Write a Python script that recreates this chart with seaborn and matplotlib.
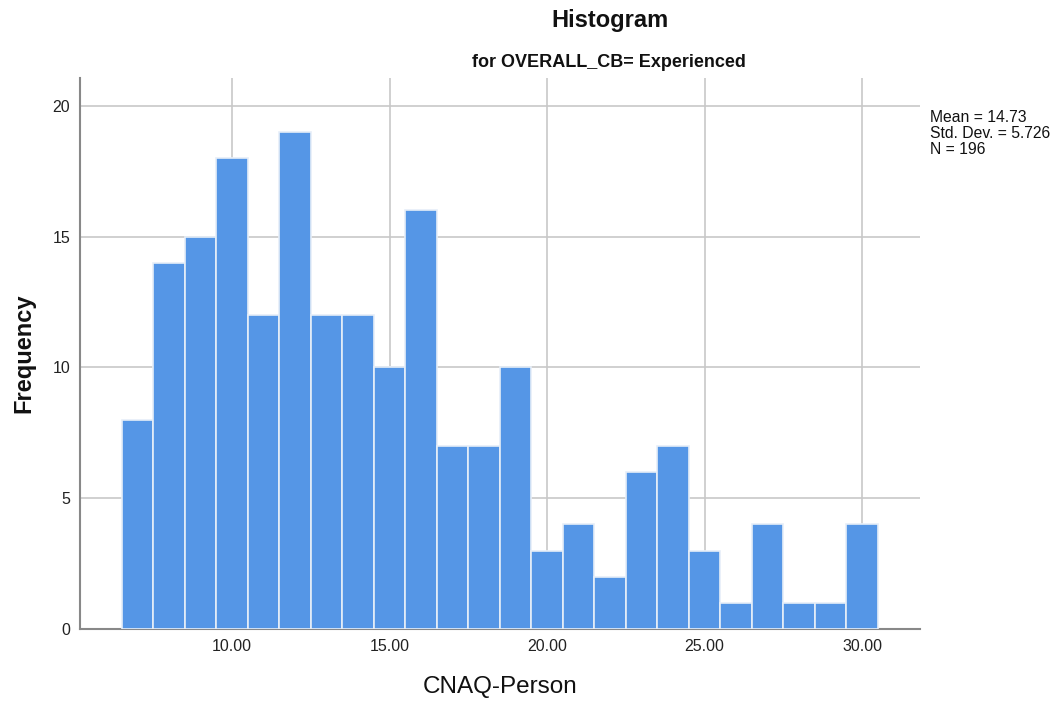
import matplotlib
matplotlib.use("Agg")
import matplotlib.pyplot as plt
import seaborn as sns
import numpy as np

bin_centers = [7, 8, 9, 10, 11, 12, 13, 14, 15, 16, 17, 18, 19, 20, 21, 22, 23, 24, 25, 26, 27, 28, 29, 30]
counts = [8, 14, 15, 18, 12, 19, 12, 12, 10, 16, 7, 7, 10, 3, 4, 2, 6, 7, 3, 1, 4, 1, 1, 4]
x_ticks = [10, 15, 20, 25, 30]
x_tick_labels = ["10.00", "15.00", "20.00", "25.00", "30.00"]
y_ticks = [0, 5, 10, 15, 20]

sns.set_theme(style="white")
plt.rcParams['font.family'] = ['Liberation Sans', 'DejaVu Sans']

fig = plt.figure(figsize=(10.59, 7.04), dpi=100)
ax = fig.add_axes([80/1059, 1-629/704, 840/1059, (629-78)/704])

edges = [c - 0.5 for c in bin_centers] + [bin_centers[-1] + 0.5]
sns.histplot(x=bin_centers, weights=counts, bins=edges, ax=ax,
             color="#5596E6", alpha=1.0, edgecolor="#E6EEF8", linewidth=1.2, zorder=3)

ax.set_xlim(5.17, 31.84)
ax.set_ylim(0, 21.06)
ax.set_xticks(x_ticks)
ax.set_xticklabels(x_tick_labels)
ax.set_yticks(y_ticks)
ax.grid(True, color="#C8C8C8", linewidth=1.2, zorder=0)
ax.set_axisbelow(True)
for s in ["top", "right"]:
    ax.spines[s].set_visible(False)
for s in ["left", "bottom"]:
    ax.spines[s].set_color("#888888")
    ax.spines[s].set_linewidth(1.5)
ax.tick_params(axis="both", length=0, labelsize=11.5, colors="#222222", pad=7)
ax.set_xlabel("CNAQ-Person", fontsize=17.5, labelpad=16, color="#111111")
ax.set_ylabel("Frequency", fontsize=17, fontweight="bold", labelpad=12, color="#111111")

fig.text(610/1059, 1-20/704, "Histogram", ha="center", va="center", fontsize=17, fontweight="bold", color="#111111")
fig.text(609/1059, 1-62.5/704, "for OVERALL_CB= Experienced", ha="center", va="center", fontsize=13, fontweight="bold", color="#111111")
fig.text(930/1059, 1-110/704, "Mean = 14.73\nStd. Dev. = 5.726\nN = 196", ha="left", va="top", fontsize=11.3, color="#111111", linespacing=1.1)

fig.savefig("out.png", dpi=100)
